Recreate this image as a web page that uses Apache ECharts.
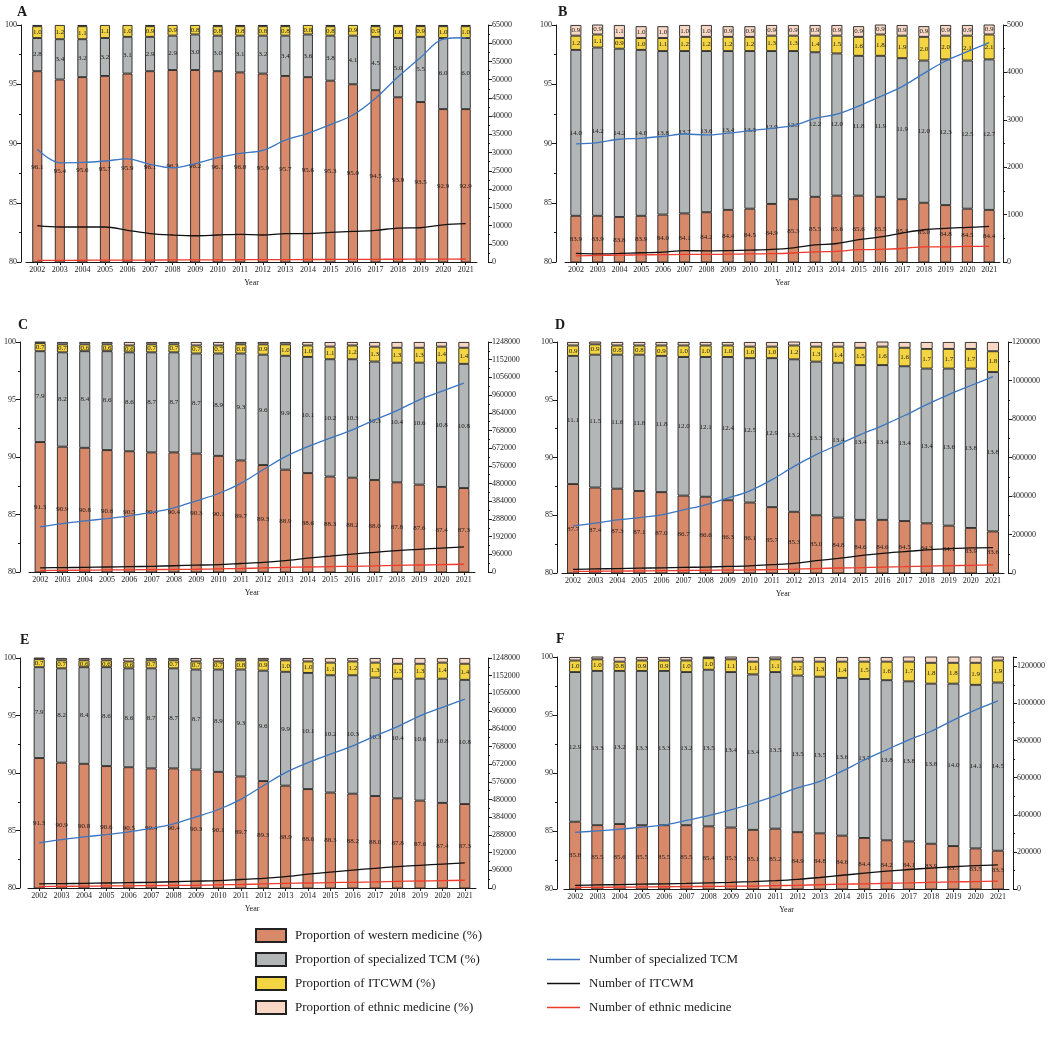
<!DOCTYPE html>
<html><head><meta charset="utf-8">
<script src="https://cdn.jsdelivr.net/npm/echarts@6/dist/echarts.min.js"></script>
<style>html,body{margin:0;padding:0;background:#fff}#c{width:1052px;height:1038px}</style>
</head><body><div id="c"></div>
<script>
const years = ['2002','2003','2004','2005','2006','2007','2008','2009','2010','2011','2012','2013','2014','2015','2016','2017','2018','2019','2020','2021'];
const barNames = ['Proportion of western medicine (%)','Proportion of specialized TCM (%)','Proportion of ITCWM (%)','Proportion of ethnic medicine (%)'];
const lineNames = ['Number of specialized TCM','Number of ITCWM','Number of ethnic medicine'];

// Panel A
const westA = [96.1,95.4,95.6,95.7,95.9,96.1,96.2,96.2,96.1,96.0,95.9,95.7,95.6,95.3,95.0,94.5,93.9,93.5,92.9,92.9];
const tcmA  = [2.8,3.4,3.2,3.2,3.1,2.9,2.9,3.0,3.0,3.1,3.2,3.4,3.6,3.8,4.1,4.5,5.0,5.5,6.0,6.0];
const itcA  = [1.0,1.2,1.1,1.1,1.0,0.9,0.9,0.8,0.8,0.8,0.8,0.8,0.8,0.8,0.9,0.9,1.0,0.9,1.0,1.0];
const ethA  = [0.1,0.1,0.1,0.1,0.1,0.1,0.1,0.1,0.1,0.1,0.1,0.1,0.1,0.1,0.1,0.1,0.1,0.1,0.1,0.1];
const nTcmA = [30900,27200,27300,27700,28300,26800,25800,27000,28600,29800,30600,33400,35300,37700,40300,44900,50800,56100,61100,61500];
const nItcA = [10000,9600,9600,9600,8700,7800,7400,7200,7400,7600,7400,7800,7800,8100,8400,8700,9300,9400,10200,10500];
const nEthA = [450,460,480,500,520,540,560,580,600,620,640,660,680,700,720,740,760,780,800,820];

// Panel B
const westB = [83.9,83.9,83.8,83.9,84.0,84.1,84.2,84.4,84.5,84.9,85.3,85.5,85.6,85.6,85.5,85.3,85.0,84.8,84.5,84.4];
const tcmB  = [14.0,14.2,14.2,14.0,13.8,13.7,13.6,13.4,13.3,12.9,12.5,12.2,12.0,11.8,11.9,11.9,12.0,12.3,12.5,12.7];
const itcB  = [1.2,1.1,0.9,1.0,1.1,1.2,1.2,1.2,1.2,1.3,1.3,1.4,1.5,1.6,1.8,1.9,2.0,2.0,2.1,2.1];
const ethB  = [0.9,0.9,1.1,1.0,1.0,1.0,1.0,0.9,0.9,0.9,0.9,0.9,0.9,0.9,0.9,0.9,0.9,0.9,0.9,0.9];
const nTcmB = [2490,2520,2590,2610,2650,2700,2680,2720,2770,2820,2880,3030,3120,3290,3490,3700,3980,4240,4440,4630];
const nItcB = [180,170,180,195,210,240,235,240,250,265,300,360,390,470,530,610,680,710,730,750];
const nEthB = [130,140,145,150,155,160,160,165,170,175,190,215,225,260,265,285,320,320,330,330];

// Panel C
const westC = [91.3,90.9,90.8,90.6,90.5,90.4,90.4,90.3,90.1,89.7,89.3,88.9,88.6,88.3,88.2,88.0,87.8,87.6,87.4,87.3];
const tcmC  = [7.9,8.2,8.4,8.6,8.6,8.7,8.7,8.7,8.9,9.3,9.6,9.9,10.1,10.2,10.3,10.3,10.4,10.6,10.8,10.8];
const itcC  = [0.7,0.7,0.6,0.6,0.6,0.7,0.7,0.7,0.7,0.8,0.9,1.0,1.0,1.1,1.2,1.3,1.3,1.3,1.4,1.4];
const ethC  = [0.2,0.2,0.2,0.2,0.3,0.2,0.2,0.3,0.3,0.2,0.2,0.2,0.3,0.4,0.3,0.4,0.5,0.5,0.4,0.5];
const nTcmC = [245000,263000,277000,290000,305000,323000,348000,386000,426000,481000,555000,626000,680000,726000,771000,825000,876000,934000,980000,1025000];
const nItcC = [22000,24000,25000,27000,29000,31000,34000,37000,40000,46000,52000,62000,75000,86000,97000,107000,116000,123000,130000,136000];
const nEthC = [8000,9000,10000,11000,12000,13000,14000,15000,17000,19000,22000,25000,27000,29000,31000,33000,36000,38000,40000,42000];

// Panel D
const westD = [87.7,87.4,87.3,87.1,87.0,86.7,86.6,86.3,86.1,85.7,85.3,85.0,84.8,84.6,84.6,84.5,84.3,84.1,83.9,83.6];
const tcmD  = [11.1,11.5,11.6,11.8,11.8,12.0,12.1,12.4,12.5,12.9,13.2,13.3,13.4,13.4,13.4,13.4,13.4,13.6,13.8,13.8];
const itcD  = [0.9,0.9,0.8,0.8,0.9,1.0,1.0,1.0,1.0,1.0,1.2,1.3,1.4,1.5,1.6,1.6,1.7,1.7,1.7,1.8];
const ethD  = [0.3,0.3,0.3,0.3,0.3,0.3,0.3,0.3,0.4,0.4,0.4,0.4,0.4,0.5,0.5,0.5,0.6,0.6,0.6,0.8];
const nTcmD = [245000,259000,276000,288000,302000,328000,354000,389000,427000,485000,554000,615000,667000,719000,766000,818000,875000,927000,974000,1020000];
const nItcD = [19000,21000,23000,25000,27000,29000,31000,34000,37000,43000,50000,64000,76000,90000,102000,111000,120000,127000,130000,132000];
const nEthD = [8000,9000,10000,11000,12000,13000,14000,15000,16000,18000,20000,23000,26000,28000,31000,33000,36000,38000,40000,42000];

// Panel E
const westE = [91.3,90.9,90.8,90.6,90.5,90.4,90.4,90.3,90.1,89.7,89.3,88.9,88.6,88.3,88.2,88.0,87.8,87.6,87.4,87.3];
const tcmE  = [7.9,8.2,8.4,8.6,8.6,8.7,8.7,8.7,8.9,9.3,9.6,9.9,10.1,10.2,10.3,10.3,10.4,10.6,10.8,10.8];
const itcE  = [0.7,0.7,0.6,0.6,0.6,0.7,0.7,0.7,0.7,0.8,0.9,1.0,1.0,1.1,1.2,1.3,1.3,1.3,1.4,1.4];
const ethE  = [0.2,0.2,0.2,0.2,0.3,0.2,0.2,0.3,0.3,0.2,0.2,0.2,0.3,0.4,0.3,0.4,0.5,0.5,0.4,0.5];
const nTcmE = [245000,263000,277000,290000,305000,323000,348000,386000,426000,481000,555000,626000,680000,726000,771000,825000,876000,934000,980000,1025000];
const nItcE = [22000,24000,25000,27000,29000,31000,34000,37000,40000,46000,52000,62000,75000,86000,97000,107000,116000,123000,130000,136000];
const nEthE = [8000,9000,10000,11000,12000,13000,14000,15000,17000,19000,22000,25000,27000,29000,31000,33000,36000,38000,40000,42000];

// Panel F
const westF = [85.8,85.5,85.6,85.5,85.5,85.5,85.4,85.3,85.1,85.2,84.9,84.8,84.6,84.4,84.2,84.1,83.9,83.7,83.5,83.3];
const tcmF  = [12.9,13.3,13.2,13.3,13.3,13.2,13.5,13.4,13.4,13.5,13.5,13.5,13.6,13.7,13.8,13.8,13.8,14.0,14.1,14.5];
const itcF  = [1.0,1.0,0.8,0.9,0.9,1.0,1.0,1.1,1.1,1.1,1.2,1.3,1.4,1.5,1.6,1.7,1.8,1.8,1.9,1.9];
const ethF  = [0.3,0.3,0.4,0.3,0.3,0.3,0.3,0.3,0.4,0.3,0.4,0.4,0.4,0.4,0.4,0.5,0.6,0.6,0.6,0.6];
const nTcmF = [305000,313000,322000,333000,345000,370000,395000,426000,462000,502000,545000,580000,635000,695000,750000,804000,850000,910000,965000,1014000];
const nItcF = [20000,22000,24000,26000,28000,30000,33000,36000,40000,45000,52000,62000,74000,85000,96000,105000,113000,120000,126000,130000];
const nEthF = [8000,9000,10000,11000,12000,13000,14000,15000,16000,18000,20000,23000,26000,28000,31000,33000,36000,38000,40000,42000];

const barColors = ['#D8896A','#B3B6B6','#F3D443','#F8D8C4'];
const lineColors = ['#3B76C2','#111111','#EE3B2B'];
const serif = 'Liberation Serif, Times New Roman, serif';
const ink = '#1a1a1a';

const panels = [
  {t:'A', tl:[12,0],   g:[26,25,451,237],   lo:5, ro:11, rMax:65000,   rInt:5000,   bw:10, ethLbl:false, bars:[westA,tcmA,itcA,ethA], lines:[nTcmA,nItcA,nEthA]},
  {t:'B', tl:[553,0],  g:[565,25,435,237],  lo:9, ro:3,  rMax:5000,    rInt:1000,   bw:11, ethLbl:true,  bars:[westB,tcmB,itcB,ethB], lines:[nTcmB,nItcB,nEthB]},
  {t:'C', tl:[13,313], g:[29,342,446,230],  lo:9, ro:13, rMax:1248000, rInt:96000,  bw:11, ethLbl:false, bars:[westC,tcmC,itcC,ethC], lines:[nTcmC,nItcC,nEthC]},
  {t:'D', tl:[550,313],g:[562,342,442,231], lo:5, ro:4,  rMax:1200000, rInt:200000, bw:12, ethLbl:false, bars:[westD,tcmD,itcD,ethD], lines:[nTcmD,nItcD,nEthD]},
  {t:'E', tl:[15,628], g:[28,658,448,230],  lo:8, ro:12, rMax:1248000, rInt:96000,  bw:11, ethLbl:false, bars:[westE,tcmE,itcE,ethE], lines:[nTcmE,nItcE,nEthE]},
  {t:'F', tl:[551,627],g:[564,657,445,232], lo:7, ro:4,  rMax:1250000, rInt:200000, bw:12, ethLbl:false, bars:[westF,tcmF,itcF,ethF], lines:[nTcmF,nItcF,nEthF]}
];

const grid=[], xAxis=[], yAxis=[], series=[], title=[];
const axisLabelStyle = {fontSize:8, fontFamily:serif, color:ink};
const plain = (v)=>String(v);
panels.forEach((p,i)=>{
  title.push({text:p.t, left:p.tl[0], top:p.tl[1], textStyle:{fontSize:14, fontWeight:'bold', fontFamily:serif, color:ink}});
  grid.push({left:p.g[0], top:p.g[1], width:p.g[2], height:p.g[3]});
  xAxis.push({type:'category', gridIndex:i, data:years,
    axisLine:{show:true, lineStyle:{color:ink, width:1}},
    axisTick:{show:true, alignWithLabel:true, length:3, lineStyle:{color:ink}},
    axisLabel:Object.assign({interval:0, margin:4}, axisLabelStyle),
    splitLine:{show:false},
    name:'Year', nameLocation:'middle', nameGap:17, nameTextStyle:{fontSize:8, fontFamily:serif, color:ink}});
  yAxis.push({type:'value', gridIndex:i, position:'left', offset:p.lo, min:80, max:100, interval:5,
    axisLine:{show:true, lineStyle:{color:ink, width:1}},
    axisTick:{show:true, length:4, lineStyle:{color:ink}},
    minorTick:{show:true, splitNumber:2, length:2, lineStyle:{color:ink}},
    splitLine:{show:false}, minorSplitLine:{show:false},
    axisLabel:Object.assign({margin:4, formatter:plain}, axisLabelStyle)});
  yAxis.push({type:'value', gridIndex:i, position:'right', offset:p.ro, min:0, max:p.rMax, interval:p.rInt,
    axisLine:{show:true, lineStyle:{color:ink, width:1}},
    axisTick:{show:true, length:4, lineStyle:{color:ink}},
    minorTick:{show:true, splitNumber:2, length:2, lineStyle:{color:ink}},
    splitLine:{show:false}, minorSplitLine:{show:false},
    axisLabel:Object.assign({margin:4, formatter:plain, showMaxLabel: p.rMax % p.rInt === 0}, axisLabelStyle)});
  p.bars.forEach((d,k)=>{
    series.push({type:'bar', name:barNames[k], xAxisIndex:i, yAxisIndex:2*i, stack:'s'+i, data:d,
      barWidth:p.bw, clip:true, z:2,
      itemStyle:{color:barColors[k], borderColor:'#222', borderWidth:0.9},
      label:{show: k<3 || p.ethLbl, position:'inside', formatter:(q)=>Number(q.value).toFixed(1),
        fontSize:7, fontFamily:serif, color:ink},
      emphasis:{disabled:true}});
  });
  p.lines.forEach((d,k)=>{
    series.push({type:'line', name:lineNames[k], xAxisIndex:i, yAxisIndex:2*i+1, data:d,
      smooth:0.35, symbol:'none', z:5,
      lineStyle:{color:lineColors[k], width:1.3}, itemStyle:{color:lineColors[k]},
      emphasis:{disabled:true}});
  });
});

const lineIcon = 'path://M0,0 L40,0 L40,1.6 L0,1.6 Z';
const chart = echarts.init(document.getElementById('c'), null, {renderer:'canvas'});
chart.setOption({
  animation:false, backgroundColor:'#fff',
  title, grid, xAxis, yAxis, series,
  tooltip:{show:false},
  legend:[
    {data:barNames, orient:'vertical', left:250, top:923, height:115, icon:'rect', itemWidth:30, itemHeight:13, itemGap:9,
     textStyle:{fontSize:13, fontFamily:serif, color:ink, padding:[0,0,0,4]}, selectedMode:false},
    {data:lineNames.map(n=>({name:n, icon:lineIcon})), orient:'vertical', left:542, top:948, height:90, itemWidth:33, itemHeight:13, itemGap:11,
     textStyle:{fontSize:13, fontFamily:serif, color:ink, padding:[0,0,0,4]}, selectedMode:false}
  ]
});
</script></body></html>
